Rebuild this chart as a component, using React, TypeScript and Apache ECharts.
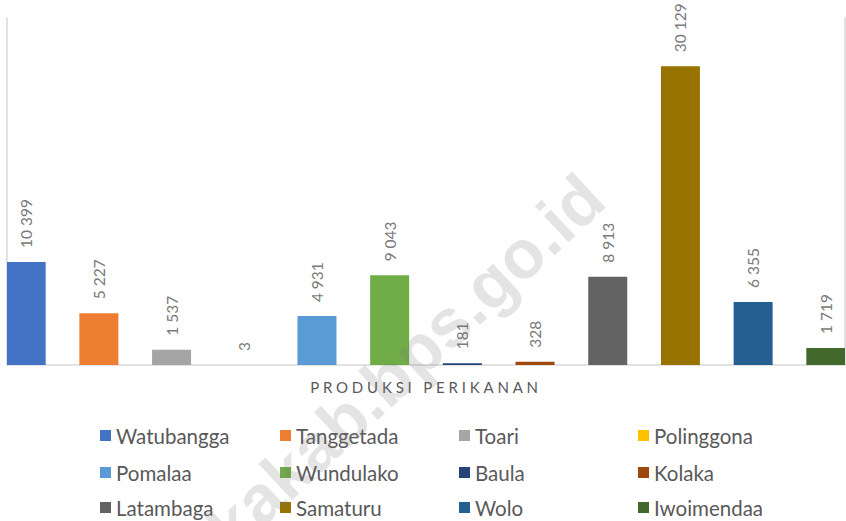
import React, { useEffect, useRef } from "react";
import * as echarts from "echarts";

const category = ["PRODUKSI PERIKANAN"];
const regions = [
  "Watubangga", "Tanggetada", "Toari", "Polinggona",
  "Pomalaa", "Wundulako", "Baula", "Kolaka",
  "Latambaga", "Samaturu", "Wolo", "Iwoimendaa",
];
const values = [10399, 5227, 1537, 3, 4931, 9043, 181, 328, 8913, 30129, 6355, 1719];
const colors = [
  "#4472C4", "#ED7D31", "#A5A5A5", "#FFC000",
  "#5B9BD5", "#70AD47", "#264478", "#9E480E",
  "#636363", "#997300", "#255E91", "#43682B",
];
const watermark = "kakab.bps.go.id";

const FONT = "Lato, 'Open Sans', sans-serif";
const fmt = (v: number) => String(v).replace(/\B(?=(\d{3})+(?!\d))/g, " ");

export default function App() {
  const ref = useRef<HTMLDivElement>(null);
  useEffect(() => {
    if (!ref.current) return;
    const chart = echarts.init(ref.current, undefined, { renderer: "svg" });

    const colX = [100, 280, 459, 638];
    const rowY = [437, 474, 509];
    const legends = regions.map((name, i) => ({
      data: [name],
      left: colX[i % 4],
      top: rowY[Math.floor(i / 4)] - 12,
      itemWidth: 11,
      itemHeight: 11,
      itemGap: 0,
      icon: "rect",
      padding: 0,
      textStyle: { color: "#595959", fontSize: 20.5, fontFamily: FONT, padding: [0, 0, 0, 0] },
      selectedMode: false,
    }));

    chart.setOption({
      animation: false,
      textStyle: { fontFamily: FONT },
      grid: { left: 7, right: 1, top: 18, bottom: 156, containLabel: false },
      legend: legends,
      xAxis: {
        type: "category",
        data: category,
        axisLine: { show: true, lineStyle: { color: "#d9d9d9", width: 1.5 } },
        axisTick: { show: false },
        axisLabel: { color: "#595959", fontSize: 15, fontFamily: FONT, margin: 14 },
      },
      yAxis: [
        {
          type: "value",
          min: 0,
          max: 35000,
          axisLine: { show: true, lineStyle: { color: "#d9d9d9", width: 1.5 } },
          axisLabel: { show: false },
          axisTick: { show: false },
          splitLine: { show: false },
        },
        {
          type: "value",
          position: "right",
          min: 0,
          max: 35000,
          axisLine: { show: true, lineStyle: { color: "#d9d9d9", width: 1.5 } },
          axisLabel: { show: false },
          axisTick: { show: false },
          splitLine: { show: false },
        },
      ],
      series: regions.map((name, i) => ({
        type: "bar",
        name,
        data: [values[i]],
        barWidth: 39,
        barGap: "86.4%",
        barCategoryGap: "0%",
        itemStyle: { color: colors[i] },
        label: {
          show: true,
          position: "top",
          rotate: 90,
          align: "left",
          verticalAlign: "middle",
          distance: 14,
          color: "#7a7a7a",
          fontSize: 15.5,
          fontFamily: FONT,
          formatter: (p: any) => fmt(p.value),
        },
      })),
      graphic: [
        {
          type: "text",
          x: 405,
          y: 362,
          rotation: (43 * Math.PI) / 180,
          z: 100,
          silent: true,
          style: {
            text: watermark,
            fill: "rgba(120,120,120,0.2)",
            font: "bold 68px 'Liberation Sans', Arial, sans-serif",
            textAlign: "center",
            textVerticalAlign: "middle",
          },
        },
      ],
    });

    const spaceIt = () => {
      const texts = ref.current?.querySelectorAll("text") || [];
      texts.forEach((t) => {
        if (t.textContent === category[0]) {
          t.setAttribute("letter-spacing", "3.8px");
        }
      });
    };
    spaceIt();
    chart.on("finished", spaceIt);

    return () => chart.dispose();
  }, []);

  return <div ref={ref} style={{ width: 846, height: 521, position: "absolute", left: 0, top: 0 }} />;
}
